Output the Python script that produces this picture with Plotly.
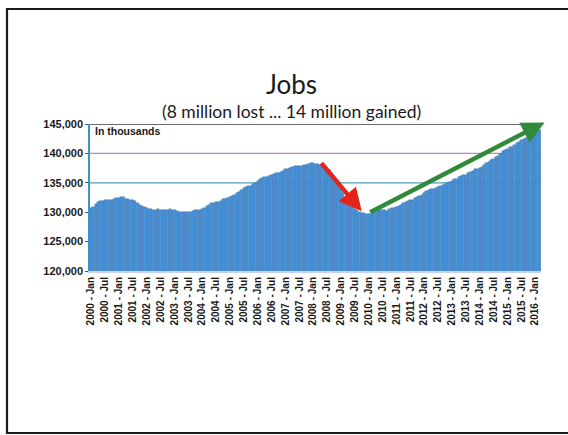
import plotly.graph_objects as go

# Total nonfarm payroll employment, seasonally adjusted, in thousands (Jan 2000 - Mar 2016)
years = list(range(2000, 2017))
month_names = ["Jan", "Feb", "Mar", "Apr", "May", "Jun",
               "Jul", "Aug", "Sep", "Oct", "Nov", "Dec"]

jobs = [
    # 2000
    130781, 130898, 131370, 131658, 131877, 131827, 131991, 131994, 132112, 132116, 132279, 132421,
    # 2001
    132468, 132533, 132527, 132246, 132200, 132071, 132004, 131843, 131598, 131270, 130978, 130808,
    # 2002
    130679, 130562, 130523, 130442, 130433, 130478, 130379, 130394, 130336, 130460, 130498, 130346,
    # 2003
    130432, 130268, 130057, 130031, 130036, 130031, 130053, 130022, 130136, 130332, 130347, 130456,
    # 2004
    130624, 130667, 131003, 131246, 131538, 131609, 131655, 131762, 131919, 132266, 132325, 132455,
    # 2005
    132591, 132832, 132958, 133326, 133497, 133744, 134121, 134315, 134388, 134477, 134812, 134973,
    # 2006
    135255, 135572, 135853, 136036, 136056, 136139, 136351, 136525, 136682, 136695, 136906, 137068,
    # 2007
    137306, 137389, 137594, 137676, 137825, 137898, 137925, 137908, 137990, 138077, 138198, 138285,
    # 2008
    138365, 138279, 138199, 137985, 137803, 137631, 137421, 137162, 136697, 136214, 135487, 134821,
    # 2009
    134032, 133291, 132499, 131679, 131334, 130868, 130594, 130352, 130113, 129908, 129926, 129646,
    # 2010
    129655, 129616, 129854, 130095, 130607, 130450, 130367, 130316, 130251, 130510, 130648, 130758,
    # 2011
    130828, 131029, 131255, 131577, 131678, 131902, 131999, 132127, 132361, 132536, 132693, 132902,
    # 2012
    133259, 133555, 133795, 133865, 133996, 134092, 134244, 134410, 134579, 134721, 134895, 135109,
    # 2013
    135311, 135592, 135730, 135934, 136154, 136250, 136399, 136645, 136760, 136999, 137272, 137362,
    # 2014
    137543, 137739, 138011, 138341, 138573, 138879, 139131, 139355, 139627, 139938, 140339, 140592,
    # 2015
    140810, 141075, 141159, 141427, 141736, 141964, 142241, 142390, 142539, 142859, 143139, 143417,
    # 2016
    143598, 143840, 144055,
]

month_labels = [f"{y} - {m}" for y in years for m in month_names][:len(jobs)]
tick_labels = [lbl for lbl in month_labels if lbl.endswith("Jan") or lbl.endswith("Jul")]

y_ticks = [120000, 125000, 130000, 135000, 140000, 145000]
grid_levels = [135000, 140000]
grid_colors = ["#4f9fb8", "#b987c4"]

# Arrows: (tail month, tail level) -> (head month/position, head level)
loss_arrow = [("2008 - Apr", 138600), ("2009 - Oct", 130150)]
gain_arrow = [("2010 - Jan", 129850), (196, 145250)]

title_text = "Jobs"
subtitle_text = "(8 million lost ... 14 million gained)"
units_text = "In thousands"

W, H = 568, 435
L, R, T, B = 90, 27, 124, 164
plot_w, plot_h = W - L - R, H - T - B


def px_x(px):
    return (px - L) / plot_w


def px_y(py):
    return (H - B - py) / plot_h


def idx(label):
    return month_labels.index(label) if isinstance(label, str) else label


x = list(range(len(jobs)))

fig = go.Figure()
fig.add_trace(go.Bar(
    x=x, y=jobs,
    marker=dict(color="#4b95d8", line=dict(color="#2b62a4", width=0.35)),
    width=1.0,
    hoverinfo="skip",
))

for lvl, col in zip(grid_levels, grid_colors):
    fig.add_shape(type="line", xref="paper", yref="y", x0=0, x1=1, y0=lvl, y1=lvl,
                  line=dict(color=col, width=1.2), layer="below")
# plot top edge
fig.add_shape(type="line", xref="paper", yref="y", x0=0, x1=1.005, y0=y_ticks[-1], y1=y_ticks[-1],
              line=dict(color="#3a3a4a", width=1.5), layer="below")

# slide frame
fig.add_shape(type="rect", xref="paper", yref="paper",
              x0=px_x(7), x1=px_x(580), y0=px_y(433), y1=px_y(9),
              line=dict(color="#1a1a1a", width=2.2), fillcolor="rgba(0,0,0,0)")

for (t_lbl, t_val), (h_lbl, h_val), col in [(*loss_arrow, "#e3241b"), (*gain_arrow, "#2f8a3a")]:
    fig.add_annotation(x=idx(h_lbl), y=h_val,
                       ax=idx(t_lbl), ay=t_val, xref="x", yref="y", axref="x", ayref="y",
                       text="", showarrow=True, arrowhead=2, arrowsize=1.0,
                       arrowwidth=4.5, arrowcolor=col)

fig.add_annotation(x=px_x(291), y=px_y(84), xref="paper", yref="paper",
                   text=title_text, showarrow=False, xanchor="center", yanchor="middle",
                   font=dict(family="Lato", size=26, color="#1a1a1a"))
fig.add_annotation(x=px_x(291), y=px_y(112), xref="paper", yref="paper",
                   text=subtitle_text, showarrow=False, xanchor="center", yanchor="middle",
                   font=dict(family="Lato", size=17.5, color="#1a1a1a"))
fig.add_annotation(x=px_x(93), y=px_y(131), xref="paper", yref="paper",
                   text=units_text, showarrow=False, xanchor="left", yanchor="middle",
                   font=dict(family="Liberation Sans", size=10.5, color="#1a1a1a", weight="bold"))

fig.update_layout(
    width=W, height=H,
    margin=dict(l=L, r=R, t=T, b=B),
    paper_bgcolor="white", plot_bgcolor="white",
    showlegend=False, bargap=0,
    xaxis=dict(
        range=[-0.5, len(jobs) - 0.5],
        tickmode="array",
        tickvals=[idx(t) for t in tick_labels],
        ticktext=tick_labels,
        tickangle=-90,
        ticks="", showgrid=False, zeroline=False,
        showline=True, linecolor="#c5d3ee", linewidth=2,
        tickfont=dict(family="Liberation Sans", size=10, color="#1a1a1a", weight="bold"),
    ),
    yaxis=dict(
        range=[y_ticks[0], y_ticks[-1]],
        tickmode="array", tickvals=y_ticks,
        tickformat=",d",
        ticks="outside", ticklen=3, tickcolor="#555",
        showgrid=False, zeroline=False,
        showline=True, linecolor="#3f93c4", linewidth=1.5,
        tickfont=dict(family="Liberation Sans", size=11, color="#1a1a1a", weight="bold"),
    ),
)

fig.write_html("out.html")
